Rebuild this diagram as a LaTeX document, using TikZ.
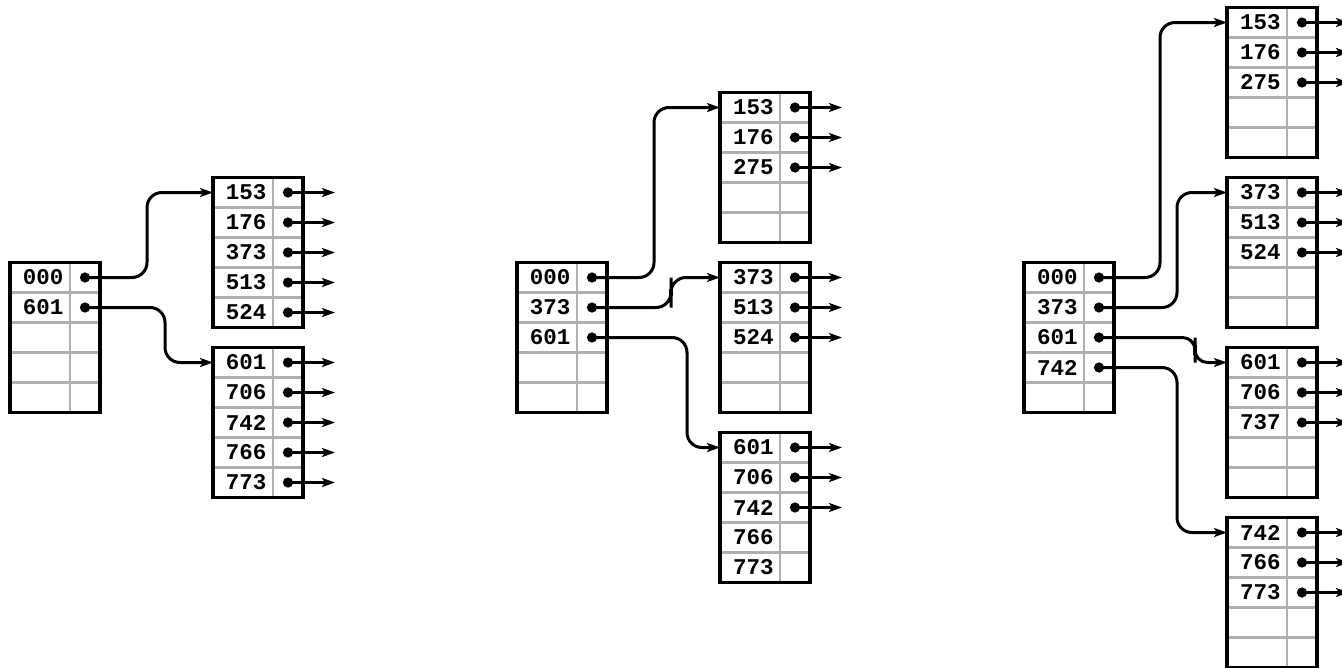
\documentclass[tikz,border=0pt]{standalone}
\usepackage{fontspec}
\usepackage{tikz}
\usetikzlibrary{arrows.meta,positioning}
\newfontfamily\keyfont{Liberation Mono}
\definecolor{cellgray}{RGB}{175,175,175}

\newcommand{\bucket}[4]{%
  \foreach \key [count=\ri] in {#4} {
    \node[keycell] (#1-k\ri) at (#2,{#3+30*(\ri-1)}) {\key};
    \node[ptrcell, right=0pt of #1-k\ri] (#1-p\ri) {};
  }
  \draw[frame] (#1-k1.north west) rectangle (#1-p5.south east);
}
\newcommand{\outptrs}[2]{%
  \foreach \ri in {1,...,#2} {
    \coordinate (#1-o\ri) at ([xshift=47pt]#1-p\ri.center);
    \draw[ptr] (#1-p\ri.center) -- (#1-o\ri);
  }
}

\begin{document}
\begin{tikzpicture}[
    x=1pt,
    y=-1pt,
    keycell/.style={
        rectangle,
        draw=cellgray,
        line width=2.3pt,
        anchor=north west,
        minimum width=60pt,
        minimum height=30pt,
        text width=47pt,
        align=right,
        inner sep=0pt,
        outer sep=0pt,
        font=\keyfont\bfseries\fontsize{22.5}{22.5}\selectfont
    },
    ptrcell/.style={
        rectangle,
        draw=cellgray,
        line width=2.3pt,
        minimum width=30pt,
        minimum height=30pt,
        inner sep=0pt,
        outer sep=0pt
    },
    frame/.style={
        draw=black,
        line width=3.2pt
    },
    ptr/.style={
        line width=3pt,
        {Circle[length=10pt]}-{Stealth[length=13pt,width=9pt,inset=3pt]},
        shorten <=-5pt
    },
    link/.style={
        ptr,
        rounded corners=15pt
    },
    seam/.style={
        line width=4.5pt
    }
]

\useasboundingbox (0,0) rectangle (1342,667);

\bucket{lr}{10}{262.5}{000,601,{},{},{}}
\bucket{la}{213}{177.5}{153,176,373,513,524}
\bucket{lb}{213}{347.5}{601,706,742,766,773}

\outptrs{la}{5}
\outptrs{lb}{5}

\draw[link]
(lr-p1.center) -| ([xshift=-66pt]la-k1.west) -- (la-k1.west);

\draw[link]
(lr-p2.center) -| ([xshift=-48pt]lb-k1.west) -- (lb-k1.west);

\bucket{mr}{517}{262.5}{000,373,601,{},{}}
\bucket{ma}{720}{92.5}{153,176,275,{},{}}
\bucket{mb}{720}{262.5}{373,513,524,{},{}}
\bucket{mc}{720}{432.5}{601,706,742,766,773}

\outptrs{ma}{3}
\outptrs{mb}{3}
\outptrs{mc}{3}

\draw[link]
(mr-p1.center) -| ([xshift=-66pt]ma-k1.west) -- (ma-k1.west);

\coordinate (mseam) at ([xshift=-49pt,yshift=-15pt]mb-k1.west);

\draw[link]
(mr-p2.center) -| (mseam) |- (mb-k1.west);

\draw[seam]
([yshift=3.5pt]mseam) -- ([yshift=-3.5pt]mseam);

\draw[link]
(mr-p3.center) -| ([xshift=-33pt]mc-k1.west) -- (mc-k1.west);

\bucket{rr}{1024}{262.5}{000,373,601,742,{}}
\bucket{ra}{1227}{7.5}{153,176,275,{},{}}
\bucket{rb}{1227}{177.5}{373,513,524,{},{}}
\bucket{rc}{1227}{347.5}{601,706,737,{},{}}
\bucket{rd}{1227}{517.5}{742,766,773,{},{}}

\outptrs{ra}{3}
\outptrs{rb}{3}
\outptrs{rc}{3}
\outptrs{rd}{3}

\draw[link]
(rr-p1.center) -| ([xshift=-67pt]ra-k1.west) -- (ra-k1.west);

\draw[link]
(rr-p2.center) -| ([xshift=-50pt]rb-k1.west) -- (rb-k1.west);

\coordinate (rseam) at ([xshift=-32pt,yshift=12.5pt]rc-k1.west);

\draw[link, rounded corners=12.5pt]
(rr-p3.center) -| (rseam) |- (rc-k1.west);

\draw[seam]
([yshift=5pt]rseam) -- ([yshift=-5pt]rseam);

\draw[link]
(rr-p4.center) -| ([xshift=-50pt]rd-k1.west) -- (rd-k1.west);

\end{tikzpicture}
\end{document}
